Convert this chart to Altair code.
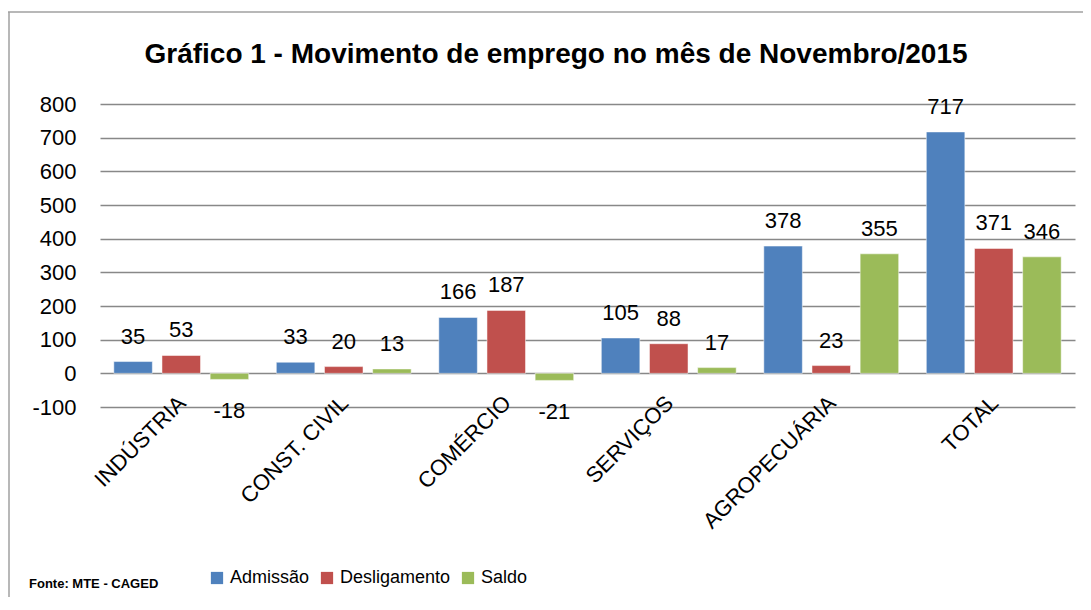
import altair as alt
import pandas as pd

categories = ["INDÚSTRIA", "CONST. CIVIL", "COMÉRCIO", "SERVIÇOS", "AGROPECUÁRIA", "TOTAL"]
series = ["Admissão", "Desligamento", "Saldo"]
admissao = [35, 33, 166, 105, 378, 717]
desligamento = [53, 20, 187, 88, 23, 371]
saldo = [-18, 13, -21, 17, 355, 346]
colors = ["#4F81BD", "#C0504D", "#9BBB59"]
y_ticks = [-100, 0, 100, 200, 300, 400, 500, 600, 700, 800]
title_text = "Gráfico 1 - Movimento de emprego no mês de Novembro/2015"
source_text = "Fonte: MTE - CAGED"

rows = []
for i, c in enumerate(categories):
    for s, vals in zip(series, [admissao, desligamento, saldo]):
        rows.append({"cat": c, "serie": s, "valor": vals[i], "rotulo": str(vals[i])})
df = pd.DataFrame(rows)

SANS = "Liberation Sans, Arial, sans-serif"

x = alt.X(
    "cat:N", sort=categories, title=None,
    scale=alt.Scale(paddingInner=0.17, paddingOuter=0.085),
    axis=alt.Axis(labelAngle=-45, labelAlign="right", labelBaseline="alphabetic",
                  labelFont=SANS, labelFontSize=22, labelColor="black",
                  domain=False, ticks=False, labelPadding=-3, labelOffset=6, grid=False),
)
xoff = alt.XOffset("serie:N", sort=series, scale=alt.Scale(paddingInner=0.2))
y = alt.Y(
    "valor:Q", title=None,
    scale=alt.Scale(domain=[-100, 800], nice=False, zero=True),
    axis=alt.Axis(values=y_ticks, labelExpr="'' + datum.value",
                  labelFont=SANS, labelFontSize=22, labelColor="black",
                  domain=False, ticks=False, labelPadding=24,
                  grid=True, gridColor="#888888", gridWidth=1.5),
)
color = alt.Color(
    "serie:N", sort=series,
    scale=alt.Scale(domain=series, range=colors),
    legend=alt.Legend(orient="none", legendX=108, legendY=465, direction="horizontal",
                      title=None, symbolType="square", symbolSize=150,
                      symbolStrokeWidth=0, labelFont=SANS, labelFontSize=18,
                      labelColor="black", columnPadding=8, labelOffset=4),
)

base = alt.Chart(df)
bars = base.mark_bar(stroke="white", strokeWidth=0.5).encode(x=x, xOffset=xoff, y=y, color=color)
pos_text = base.transform_filter("datum.valor >= 0").mark_text(
    baseline="bottom", dy=-13, font=SANS, fontSize=22, color="black"
).encode(x=x, xOffset=xoff, y=y, text="rotulo:N")
neg_text = base.transform_filter("datum.valor < 0").mark_text(
    baseline="top", dy=22, font=SANS, fontSize=22, color="black"
).encode(x=x, xOffset=xoff, y=y, text="rotulo:N")

title = alt.Chart(pd.DataFrame({"t": [title_text]})).mark_text(
    align="center", baseline="alphabetic", font=SANS, fontSize=28, fontWeight="bold", color="black"
).encode(x=alt.value(456), y=alt.value(-41), text="t:N")

fonte = alt.Chart(pd.DataFrame({"t": [source_text]})).mark_text(
    align="left", baseline="middle", font=SANS, fontSize=13, fontWeight="bold", color="black"
).encode(x=alt.value(-71), y=alt.value(480), text="t:N")

border_top = alt.Chart(pd.DataFrame({"a": [0]})).mark_rule(color="#a0a0a0", strokeWidth=1.5).encode(
    x=alt.value(-92), x2=alt.value(1000), y=alt.value(-92))
border_left = alt.Chart(pd.DataFrame({"a": [0]})).mark_rule(color="#a0a0a0", strokeWidth=1.5).encode(
    x=alt.value(-91), y=alt.value(-92), y2=alt.value(520))

chart = alt.layer(bars, pos_text, neg_text, title, fonte, border_top, border_left).properties(
    width=975, height=303,
    autosize=alt.AutoSizeParams(type="none"),
    padding={"left": 92, "top": 96, "right": 8, "bottom": 190},
).configure_view(stroke=None)

chart.save("out.html", embed_options={"renderer": "svg", "actions": False})
